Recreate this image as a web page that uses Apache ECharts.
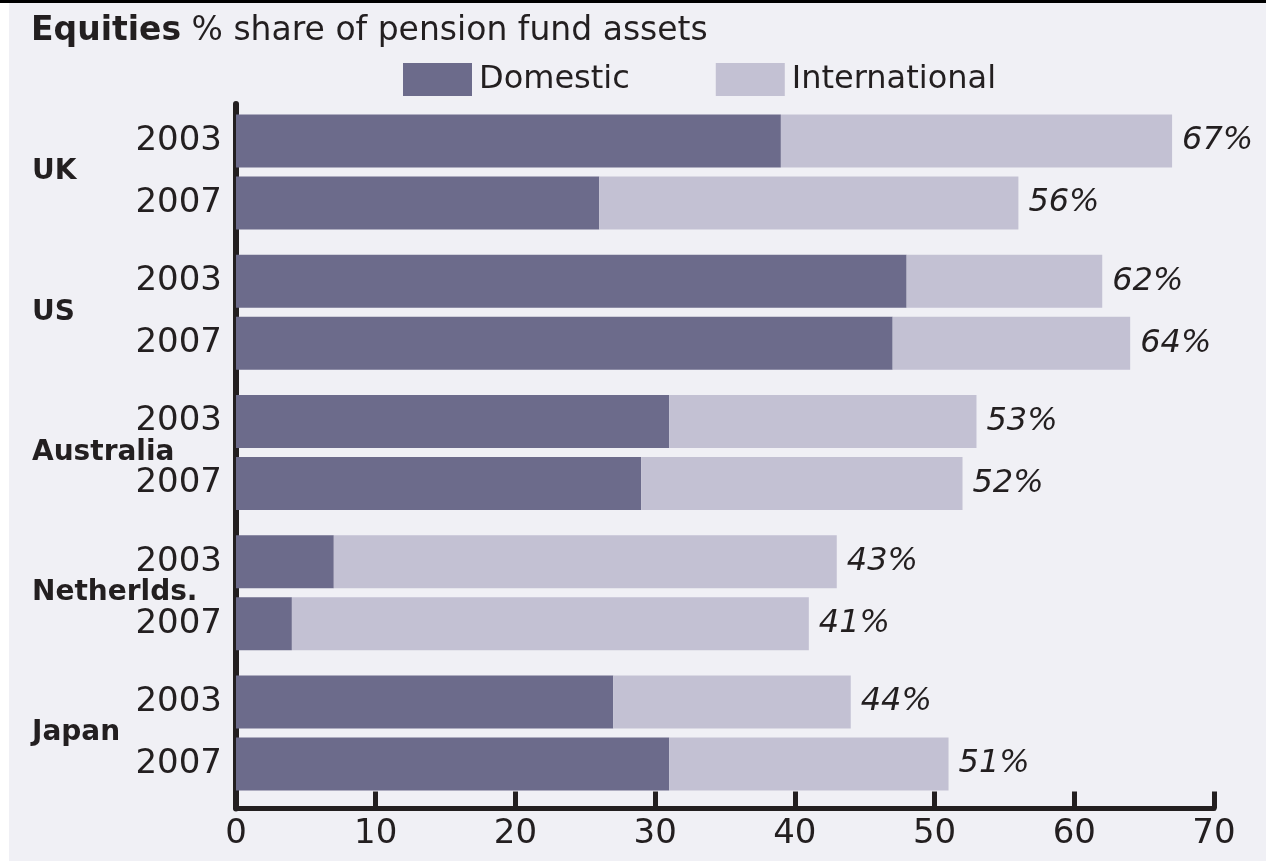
<!DOCTYPE html>
<html>
<head>
<meta charset="utf-8">
<title>Equities % share of pension fund assets</title>
<script src="https://cdn.jsdelivr.net/npm/echarts@6/dist/echarts.min.js"></script>
<style>
    html, body { margin: 0; padding: 0; background: #ffffff; }
    .chart { width: 1266px; height: 861px; }
</style>
</head>
<body>
<div class="chart"></div>
<script>
// data
var countries = ['UK', 'US', 'Australia', 'Netherlds.', 'Japan'];
var years = ['2003', '2007'];
// one row per country: [2003, 2007]
var domestic = [[39, 26], [48, 47], [31, 29], [7, 4], [27, 31]];
var total = [[67, 56], [62, 64], [53, 52], [43, 41], [44, 51]];
var xTicks = [0, 10, 20, 30, 40, 50, 60, 70];

(function(){
    var myChart = echarts.init(document.querySelector(".chart"));
    var ink = '#231f20';
    var font = 'DejaVu Sans';

    var grid = [];
    var xAxis = [];
    var yAxis = [];
    var series = [];

    // one grid per country, bars only
    countries.forEach(function(name, i){
        var top = 110 + i * 140.25;
        grid.push({ left: 236, right: 52, top: top, height: 124, outerBoundsMode: 'none' });
        xAxis.push({ gridIndex: i, type: 'value', min: 0, max: 70, show: false });
        // years
        yAxis.push({
            gridIndex: i,
            type: 'category',
            position: 'left',
            inverse: true,
            data: years,
            axisLine: { show: false },
            axisTick: { show: false },
            axisLabel: { color: ink, fontFamily: font, fontSize: 34, margin: 14 }
        });
        // country name
        yAxis.push({
            gridIndex: i,
            type: 'category',
            position: 'left',
            data: [name],
            axisLine: { show: false },
            axisTick: { show: false },
            axisLabel: {
                color: ink, fontFamily: font, fontSize: 28, fontWeight: 'bold',
                align: 'left', margin: 204
            }
        });
        var intl = domestic[i].map(function(v, k){ return total[i][k] - v; });
        series.push({
            name: 'Domestic',
            type: 'bar',
            stack: 'c' + i,
            xAxisIndex: i,
            yAxisIndex: i * 2,
            barWidth: 53,
            itemStyle: { color: '#6c6b8b' },
            data: domestic[i]
        });
        series.push({
            name: 'International',
            type: 'bar',
            stack: 'c' + i,
            xAxisIndex: i,
            yAxisIndex: i * 2,
            barWidth: 53,
            itemStyle: { color: '#c3c1d3' },
            label: {
                show: true,
                position: 'right',
                distance: 10,
                color: ink,
                fontFamily: font,
                fontStyle: 'italic',
                fontSize: 32,
                formatter: function(p){ return total[i][p.dataIndex] + '%'; }
            },
            data: intl
        });
    });

    // frame grid: bottom x axis and the left axis line
    var n = countries.length;
    grid.push({ left: 236, right: 52, top: 104, bottom: 52.5, outerBoundsMode: 'none' });
    xAxis.push({
        gridIndex: n,
        type: 'value',
        min: xTicks[0],
        max: xTicks[xTicks.length - 1],
        interval: xTicks[1] - xTicks[0],
        splitLine: { show: false },
        axisLine: { lineStyle: { color: ink, width: 5 } },
        axisTick: { inside: true, length: 17, lineStyle: { color: ink, width: 5 } },
        axisLabel: { color: ink, fontFamily: font, fontSize: 34, margin: 9 }
    });
    yAxis.push({
        gridIndex: n,
        type: 'value',
        min: 0,
        max: 1,
        splitLine: { show: false },
        axisTick: { show: false },
        axisLabel: { show: false },
        axisLine: { show: true, lineStyle: { color: ink, width: 6 } }
    });

    var option = {
        backgroundColor: '#f0f0f5',
        animation: false,
        title: {
            text: '{b|Equities} % share of pension fund assets',
            left: 26,
            top: 10,
            textStyle: {
                color: ink,
                fontFamily: font,
                fontSize: 33,
                fontWeight: 'normal',
                rich: {
                    b: { color: ink, fontFamily: font, fontSize: 33, fontWeight: 'bold' }
                }
            }
        },
        legend: {
            left: 398,
            top: 58,
            itemWidth: 69,
            itemHeight: 33,
            itemGap: 86,
            icon: 'rect',
            textStyle: { color: ink, fontFamily: font, fontSize: 32, padding: [0, 0, 0, 2] },
            data: ['Domestic', 'International']
        },
        graphic: [
            // black rule on top and white strip on the left
            { type: 'rect', left: 0, top: 0, shape: { width: 1266, height: 3 }, style: { fill: '#000' } },
            { type: 'rect', left: 0, top: 3, shape: { width: 9, height: 858 }, style: { fill: '#fff' } }
        ],
        grid: grid,
        xAxis: xAxis,
        yAxis: yAxis,
        series: series
    };
    myChart.setOption(option);
    window.addEventListener("resize", function(){
        myChart.resize();
    });
})();
</script>
</body>
</html>
